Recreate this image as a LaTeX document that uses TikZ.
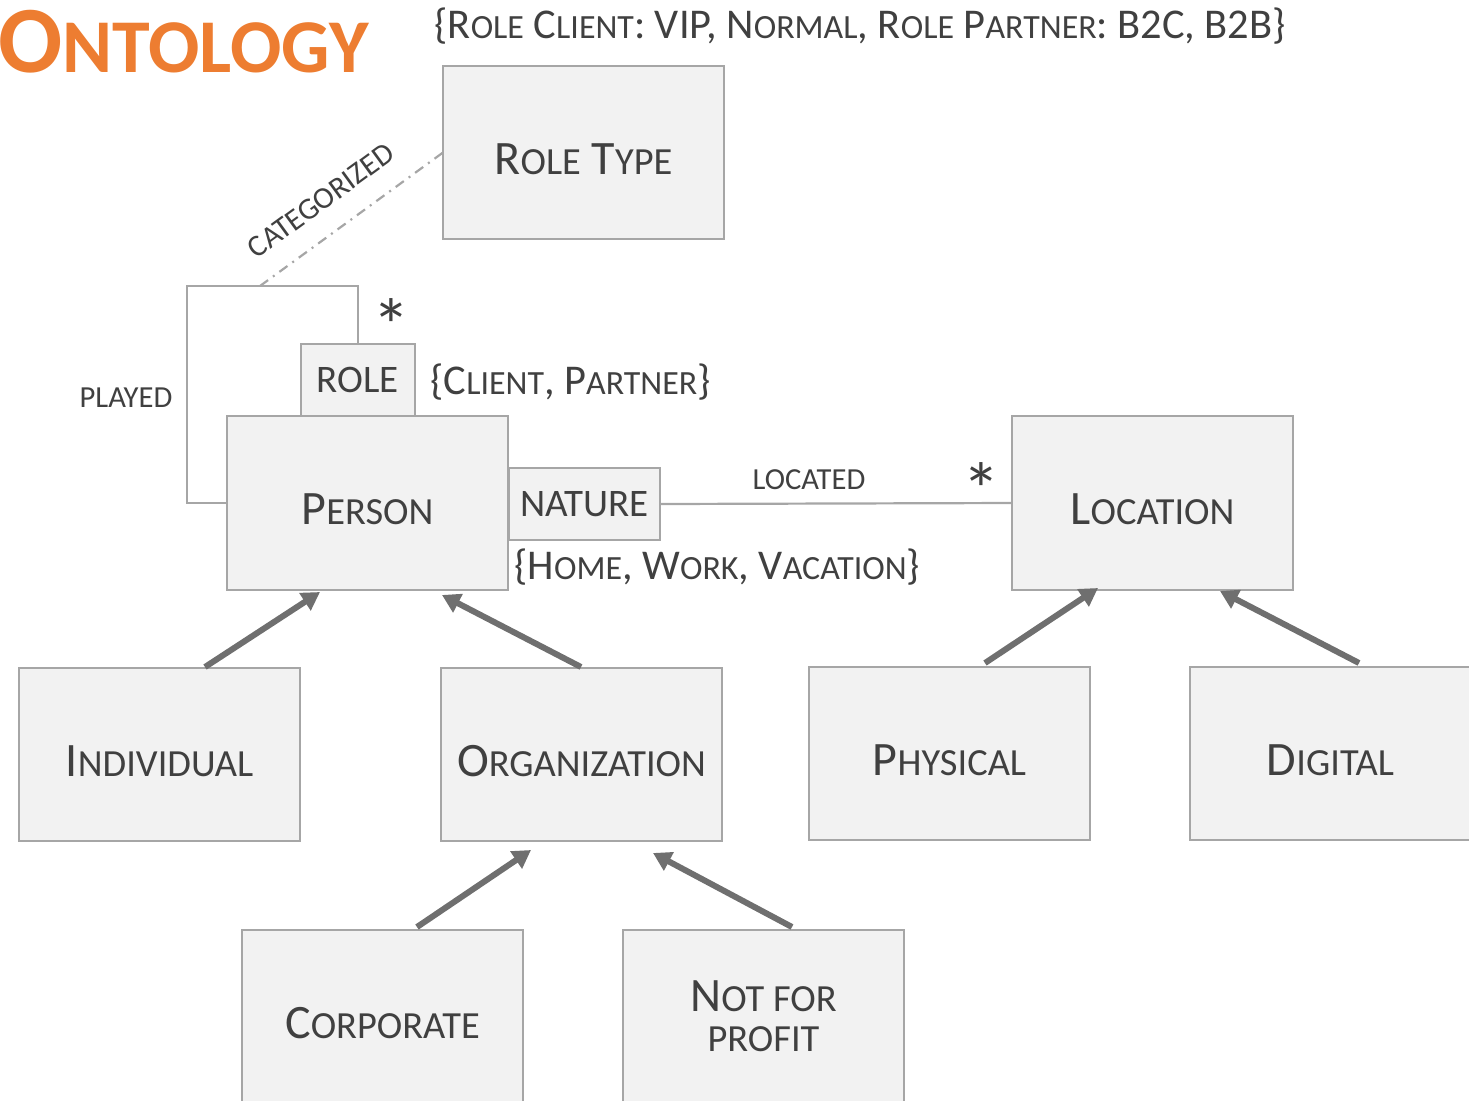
\documentclass[tikz,border=0pt]{standalone}
\usepackage{fontspec}
\setmainfont{Carlito}
\usetikzlibrary{arrows.meta,calc}
\makeatletter
\newcommand\sm[1]{{\fontsize{\the\dimexpr 0.8\dimexpr\f@size pt\relax\relax}{0pt}\selectfont #1}}
\makeatother
\definecolor{txt}{HTML}{404040}
\definecolor{bfill}{HTML}{F2F2F2}
\definecolor{bdraw}{HTML}{A6A6A6}
\definecolor{arr}{HTML}{6F6F6F}
\definecolor{orng}{HTML}{ED7D31}
\begin{document}
\begin{tikzpicture}[x=0.5pt,y=-0.5pt,
 cbox/.style={draw=bdraw, fill=bfill, line width=1.1pt, inner sep=0pt, outer sep=0pt, anchor=north west, text=txt, font=\fontsize{24}{29}\selectfont},
 bigbox/.style={cbox, minimum width=140.5pt, minimum height=86.5pt, text height=21.5pt, text depth=0pt},
 tagbox/.style={cbox, minimum height=36pt, font=\fontsize{19.5}{24}\selectfont},
 conn/.style={draw=bdraw, line width=1.1pt},
 isa/.style={draw=arr, line width=3pt, -{Triangle[length=9pt,width=10pt]}},
 lbl/.style={text=txt, inner sep=0pt, font=\fontsize{15.3}{18}\selectfont},
 notetext/.style={text=txt, inner sep=0pt, anchor=base west, font=\fontsize{21.2}{26}\selectfont},
 starmark/.style={text=txt, inner sep=0pt, anchor=north, font=\fontsize{38}{40}\selectfont}
]
\useasboundingbox (0,0) rectangle (1469,1100);

% title and value notes
\node[anchor=base west, inner sep=0pt, text=orng, font=\fontsize{47.5}{56}\selectfont\bfseries] (title) at (-2,72) {O\sm{NTOLOGY}};
\node[notetext] (rtv) at (434,38) {\{R\sm{OLE} C\sm{LIENT}: VIP, N\sm{ORMAL}, R\sm{OLE} P\sm{ARTNER}: B2C, B2B\}};

% boxes
\node[bigbox] (rt) at (443,66) {R\sm{OLE} T\sm{YPE}};
\node[bigbox, minimum height=87pt] (per) at (227,416) {P\sm{ERSON}};
\node[tagbox, minimum width=57pt] (role) at (301,344) {ROLE};
\node[tagbox, minimum width=75.5pt] (nat) at (509,468) {NATURE};
\node[bigbox, minimum height=87pt] (loc) at (1012,416) {L\sm{OCATION}};
\node[bigbox] (ind) at (19,668) {I\sm{NDIVIDUAL}};
\node[bigbox] (org) at (441,668) {O\sm{RGANIZATION}};
\node[bigbox] (phy) at (809,667) {P\sm{HYSICAL}};
\node[bigbox] (dig) at (1190,667) {D\sm{IGITAL}};
\node[bigbox] (cor) at (242,930) {C\sm{ORPORATE}};
\node[cbox, minimum width=140.5pt, minimum height=86.5pt, align=center, font=\fontsize{24}{20}\selectfont] (nfp) at (623,930) {N\sm{OT FOR}\\\sm{PROFIT}};

\node[notetext] (rolev) at (430,394) {\{C\sm{LIENT}, P\sm{ARTNER}\}};
\node[notetext] (natv) at (514,579) {\{H\sm{OME}, W\sm{ORK}, V\sm{ACATION}\}};

% played loop
\coordinate (lpc) at (187,286);
\draw[conn] (per.west) -| (lpc) -| (role.north);
\node[lbl, anchor=base] (played) at (126,407) {PLAYED};
\node[starmark] (st1) at (391,298) {*};

% categorized
\coordinate (cat) at (260,286);
\draw[conn, dash pattern=on 5pt off 3pt on 1pt off 3pt] (cat) -- node[lbl, sloped, above=11pt, pos=0.44] (catl) {CATEGORIZED} (rt.west);

% located
\draw[conn] (nat.east) -- (loc.west);
\node[lbl, anchor=base] (locl) at (809,489) {LOCATED};
\node[starmark] (st2) at (981,462) {*};

% generalisation arrows
\draw[isa] ($(ind.north)+(45.5,-1)$) -- ($(per.south)+(-47.5,2)$);
\draw[isa] ($(org.north)+(-0.5,-1)$) -- ($(per.south)+(74.5,5)$);
\draw[isa] ($(phy.north)+(35.5,-4)$) -- ($(loc.south)+(-54.5,-2)$);
\draw[isa] ($(dig.north)+(28.5,-4)$) -- ($(loc.south)+(67.5,1)$);
\draw[isa] ($(cor.north)+(34.5,-3)$) -- ($(org.south)+(-50.5,9)$);
\draw[isa] ($(nfp.north)+(28.5,-3)$) -- ($(org.south)+(71.5,12)$);
\end{tikzpicture}
\end{document}
